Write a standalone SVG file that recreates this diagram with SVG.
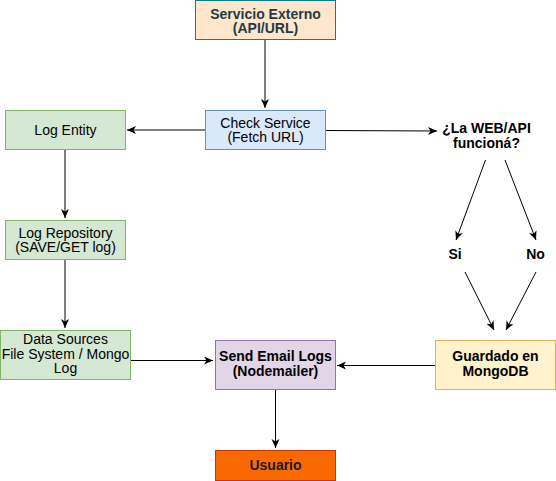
<svg xmlns="http://www.w3.org/2000/svg" width="556" height="481" viewBox="0 0 556 481">
<defs>
<marker id="arr" markerWidth="10" markerHeight="10" refX="9" refY="4" orient="auto" markerUnits="userSpaceOnUse">
<path d="M0,0 L9,4 L0,8 L2.5,4 Z" fill="#000"/>
</marker>
<style>
text{font-family:"Liberation Sans",Arial,sans-serif;font-size:14px;text-anchor:middle;fill:#000}
.b{font-weight:bold}
.e{fill:none;stroke:#000;stroke-width:1;marker-end:url(#arr)}
</style>
</defs>
<rect width="556" height="481" fill="#fff"/>
<g id="connectors">
<path class="e" d="M265,40 L265,108"/>
<path class="e" d="M205,130 L127,130"/>
<path class="e" d="M325,130.5 L437,131"/>
<path class="e" d="M65,150 L65,218"/>
<path class="e" d="M65,260 L65,328"/>
<path class="e" d="M130,360.5 L213,360.5"/>
<path class="e" d="M435,365.5 L337,365.5"/>
<path class="e" d="M275.5,390 L275.5,448"/>
<path class="e" d="M485.5,160 L456,240"/>
<path class="e" d="M505,160 L536,240"/>
<path class="e" d="M465,272 L494,330"/>
<path class="e" d="M536,272 L506,330"/>
</g>
<g id="servicio">
<rect x="195.5" y="0.5" width="140" height="39" fill="#ffe6cc" stroke="#0e8088"/>
<text class="b" x="265.5" y="18.5" style="fill:#1f3b47">Servicio Externo</text>
<text class="b" x="265.5" y="33" style="fill:#1f3b47">(API/URL)</text>
</g>
<g id="check">
<rect x="205.5" y="110.5" width="120" height="39" fill="#dae8fc" stroke="#6c8ebf"/>
<text x="265.5" y="127.5">Check Service</text>
<text x="265.5" y="142">(Fetch URL)</text>
</g>
<g id="logentity">
<rect x="5.5" y="110.5" width="120" height="39" fill="#d5e8d4" stroke="#82b366"/>
<text x="65.5" y="135">Log Entity</text>
</g>
<g id="decision">
<text class="b" x="486.5" y="133">¿La WEB/API</text>
<text class="b" x="486.5" y="148">funcioná?</text>
</g>
<g id="logrepo">
<rect x="5.5" y="220.5" width="120" height="39" fill="#d5e8d4" stroke="#82b366"/>
<text x="65.5" y="237.5">Log Repository</text>
<text x="65.5" y="252">(SAVE/GET log)</text>
</g>
<g id="si"><text class="b" x="455" y="259">Si</text></g>
<g id="no"><text class="b" x="535.5" y="259">No</text></g>
<g id="datasources">
<rect x="0.5" y="330.5" width="130" height="49" fill="#d5e8d4" stroke="#82b366"/>
<text x="65.5" y="344">Data Sources</text>
<text x="65.5" y="358.5">File System / Mongo</text>
<text x="65.5" y="373">Log</text>
</g>
<g id="sendemail">
<rect x="215.5" y="340.5" width="120" height="49" fill="#e1d5e7" stroke="#9673a6"/>
<text class="b" x="275.5" y="361">Send Email Logs</text>
<text class="b" x="275.5" y="376">(Nodemailer)</text>
</g>
<g id="guardado">
<rect x="435.5" y="340.5" width="120" height="49" fill="#fff2cc" stroke="#d6b656"/>
<text class="b" x="495.5" y="361">Guardado en</text>
<text class="b" x="495.5" y="376">MongoDB</text>
</g>
<g id="usuario">
<rect x="215.5" y="450.5" width="120" height="30" fill="#fa6800" stroke="#c73500"/>
<text class="b" x="275.5" y="470" style="fill:#1a1a1a">Usuario</text>
</g>
</svg>
